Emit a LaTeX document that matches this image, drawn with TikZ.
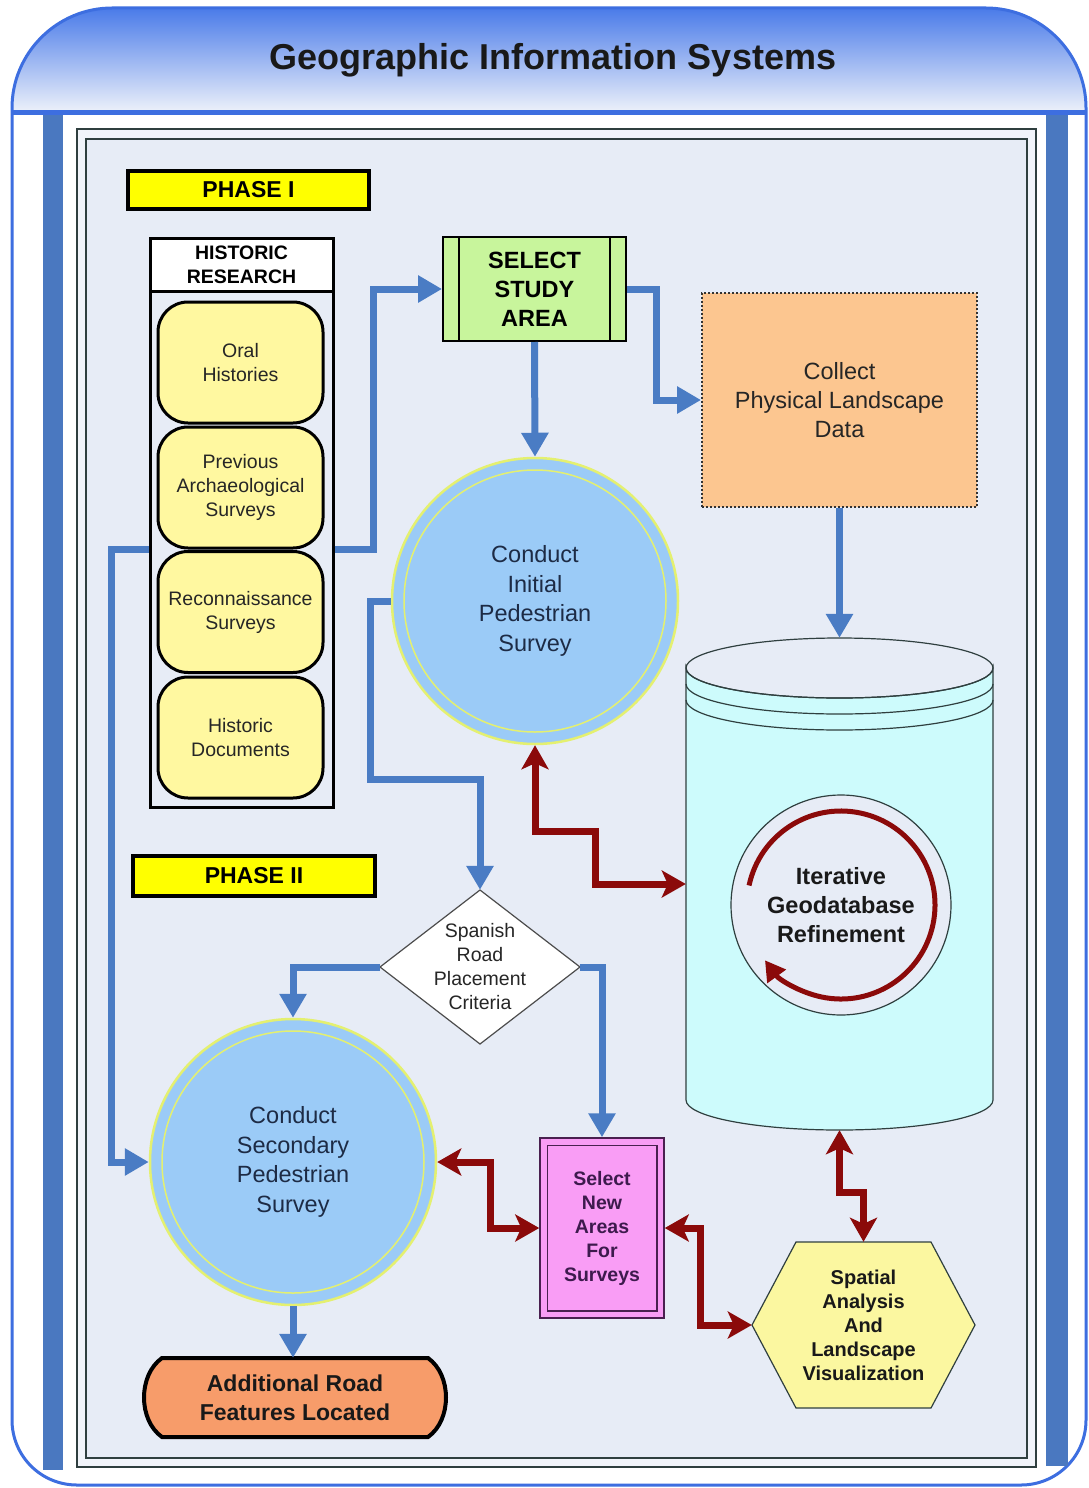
\documentclass[tikz,border=0pt]{standalone}
\usepackage{fontspec}
\setmainfont{Liberation Sans}
\usetikzlibrary{arrows.meta,calc}
\definecolor{hdrtop}{HTML}{4A7BE9}
\definecolor{hdrbot}{HTML}{EDF1FA}
\definecolor{frameblue}{HTML}{3D6EE0}
\definecolor{barblue}{HTML}{4A78C0}
\definecolor{innerbg}{HTML}{E7ECF6}
\definecolor{innerbgb}{HTML}{F1F4FA}
\definecolor{phaseyel}{HTML}{FFFF00}
\definecolor{yboxfill}{HTML}{FFF8A0}
\definecolor{selgreen}{HTML}{C8F59C}
\definecolor{peach}{HTML}{FCC690}
\definecolor{cblue}{HTML}{9BCBF7}
\definecolor{glowyel}{HTML}{E4F070}
\definecolor{navytext}{HTML}{1D2B45}
\definecolor{dbcyan}{HTML}{CDFBFC}
\definecolor{pinkfill}{HTML}{F99DF5}
\definecolor{pinkdraw}{HTML}{4A2050}
\definecolor{purptext}{HTML}{3D1A4D}
\definecolor{hexyel}{HTML}{FBF7A0}
\definecolor{orangefill}{HTML}{F79C6A}
\definecolor{arrowblue}{HTML}{4A7CC4}
\definecolor{darkred}{HTML}{8B0A0A}
\definecolor{darkline}{HTML}{2F3F3F}
\begin{document}
\begin{tikzpicture}[x=1pt,y=-1pt,
  txt/.style={align=center, inner sep=0},
  phasebox/.style={draw=black, line width=4, fill=phaseyel, minimum width=241, minimum height=38, inner sep=0, font=\fontsize{23}{27}\selectfont\bfseries},
  ybox/.style={draw=black, line width=3, fill=yboxfill, rounded corners=30, minimum width=165, minimum height=121, inner sep=0, align=center, text=black!85, font=\fontsize{19.5}{24}\selectfont},
  survcircle/.style={circle, minimum size=286, inner sep=0, fill=cblue, draw=glowyel, line width=2.5, text=navytext, align=center, font=\fontsize{23.5}{29.5}\selectfont},
  barrow/.style={draw=arrowblue, line width=7, -{Triangle[length=24,width=26]}},
  rarrow/.style={draw=darkred, line width=7, {Stealth[length=24,width=27,inset=6]}-{Stealth[length=24,width=27,inset=6]}}
]
\useasboundingbox (0,0) rectangle (1088,1488);
\fill[white] (0,0) rectangle (1088,1488);
% outer frame
\path[fill=white] (12,108) -- (12,1420) .. controls (12,1456) and (41,1485) .. (77,1485) -- (1021,1485) .. controls (1057,1485) and (1086,1456) .. (1086,1420) -- (1086,108) .. controls (1086,53) and (1041,8) .. (986,8) -- (112,8) .. controls (57,8) and (12,53) .. (12,108) -- cycle;
\shade[top color=hdrtop, bottom color=hdrbot] (12,112) -- (12,108) .. controls (12,53) and (57,8) .. (112,8) -- (986,8) .. controls (1041,8) and (1086,53) .. (1086,108) -- (1086,112) -- cycle;
\draw[frameblue, line width=3] (12,108) -- (12,1420) .. controls (12,1456) and (41,1485) .. (77,1485) -- (1021,1485) .. controls (1057,1485) and (1086,1456) .. (1086,1420) -- (1086,108) .. controls (1086,53) and (1041,8) .. (986,8) -- (112,8) .. controls (57,8) and (12,53) .. (12,108) -- cycle;
\draw[frameblue, line width=5] (12,112) -- (1086,112);
\node[txt, font=\fontsize{36}{40}\selectfont\bfseries, text=black!90] (title) at (553,60) {Geographic Information Systems};
% side bars
\fill[barblue] (43,115) rectangle (63,1470);
\fill[barblue] (1046,115) rectangle (1068,1466);
% inner frame
\draw[fill=innerbgb, draw=darkline, line width=1.5] (77,129) rectangle (1036,1467);
\draw[fill=innerbg, draw=darkline, line width=1.5] (86,139) rectangle (1027,1458);

% phase labels
\node[phasebox] (p1) at (248.5,190) {PHASE I};
\node[phasebox, minimum width=242, minimum height=40] (p2) at (254,876) {PHASE II};

% historic research column
\node[draw=black, line width=3, minimum width=183, minimum height=569, inner sep=0] (col) at (241.5,522.5) {};
\node[draw=black, line width=3, fill=white, minimum width=183, minimum height=53, txt, font=\fontsize{19.5}{24}\selectfont\bfseries] (hr) at (241.5,264.5) {HISTORIC\\RESEARCH};
\node[ybox] (oral) at (240.5,362.5) {Oral\\Histories};
\node[ybox] (prev) at (240.5,487.5) {Previous\\Archaeological\\Surveys};
\node[ybox] (recon) at (240.5,612) {Reconnaissance\\Surveys};
\node[ybox] (hdoc) at (240.5,737.5) {Historic\\Documents};

% select study area
\node[draw=black, line width=2, fill=selgreen, minimum width=183, minimum height=104, txt, font=\fontsize{23.5}{29}\selectfont\bfseries] (ssa) at (534.5,289) {SELECT\\STUDY\\AREA};
\draw[black, line width=2] ([xshift=17]ssa.north west) -- ([xshift=17]ssa.south west);
\draw[black, line width=2] ([xshift=-17]ssa.north east) -- ([xshift=-17]ssa.south east);

% collect physical landscape data
\node[draw=black!80, dotted, line width=2, fill=peach, minimum width=275, minimum height=214, txt, font=\fontsize{23.5}{29}\selectfont, text=black!85] (cpl) at (839.5,400) {Collect\\Physical Landscape\\Data};

% initial survey circle
\node[survcircle] (cips) at (535,601) {Conduct\\Initial\\Pedestrian\\Survey};
\draw[glowyel, line width=1.5] (cips.center) circle[radius=131];

% geodatabase cylinder
\path[fill=dbcyan, draw=darkline, line width=1.2] (686,668) -- (686,1100) arc[start angle=180, end angle=0, x radius=153.5, y radius=30] -- (993,668) arc[start angle=0, end angle=180, x radius=153.5, y radius=30] -- cycle;
\draw[darkline, line width=1.2] (839.5,668) ellipse[x radius=153.5, y radius=30];
\draw[darkline, line width=1.2] (686,684) arc[start angle=180, end angle=0, x radius=153.5, y radius=30];
\draw[darkline, line width=1.2] (686,700) arc[start angle=180, end angle=0, x radius=153.5, y radius=30];
\node[minimum width=307, minimum height=492, inner sep=0] (db) at (839.5,884) {};
\node[circle, draw=darkline, line width=1.2, fill=innerbg, minimum size=220, inner sep=0] (igr) at (841,905) {};
\draw[darkred, line width=5, -{Triangle[length=20,width=22]}] (igr.center) ++(-168:94) arc[start angle=-168, end angle=144, radius=94];
\node[txt, font=\fontsize{23.5}{29}\selectfont\bfseries, text=black!90] (igrtext) at (igr.center) {Iterative\\Geodatabase\\Refinement};

% decision diamond
\path[fill=white, draw=black!70, line width=1.2] (480,890) -- (580,967) -- (480,1044) -- (380,967) -- cycle;
\node[minimum width=200, minimum height=154, txt, font=\fontsize{19.5}{24}\selectfont, text=black!85] (srp) at (480,967) {Spanish\\Road\\Placement\\Criteria};

% secondary survey circle
\node[survcircle] (csps) at (293,1162) {Conduct\\Secondary\\Pedestrian\\Survey};
\draw[glowyel, line width=1.5] (csps.center) circle[radius=131];

% select new areas
\node[draw=pinkdraw, line width=1.5, fill=pinkfill, minimum width=124, minimum height=180, txt, text=purptext, font=\fontsize{19.5}{24}\selectfont\bfseries] (sna) at (602,1228) {Select\\New\\Areas\\For\\Surveys};
\draw[pinkdraw, line width=1.5] ([shift={(8,8)}]sna.north west) rectangle ([shift={(-8,-8)}]sna.south east);

% spatial analysis hexagon
\path[fill=hexyel, draw=darkline, line width=1.2] (752,1325) -- (796,1242) -- (931,1242) -- (975,1325) -- (931,1408) -- (796,1408) -- cycle;
\node[minimum width=223, minimum height=166, txt, font=\fontsize{20}{24}\selectfont\bfseries, text=black!90] (sal) at (863.5,1325) {Spatial\\Analysis\\And\\Landscape\\Visualization};

% additional road features
\path[fill=orangefill, draw=black, line width=4] (162,1358) -- (428,1358) .. controls (452,1375) and (452,1420) .. (428,1437) -- (162,1437) .. controls (138,1420) and (138,1375) .. (162,1358) -- cycle;
\node[minimum width=300, minimum height=79, txt, font=\fontsize{23}{29}\selectfont\bfseries, text=black!90] (arf) at (295,1397.5) {Additional Road\\Features Located};

% blue connectors
\draw[barrow] (col.east |- prev.south) -- ++(39,0) |- (ssa.west);
\draw[barrow] (ssa.south) -- (cips.north);
\draw[barrow] (ssa.east) -- ++(29,0) |- (cpl.west);
\draw[barrow] (cpl.south) -- (db.north);
\draw[barrow] (cips.west) -- ++(-20,0) |- ($(srp.north)+(0,-110)$) -- (srp.north);
\draw[barrow] (col.west |- prev.south) -- ++(-37,0) |- (csps.west);
\draw[barrow] (srp.west) -| (csps.north);
\draw[barrow] (srp.east) -| (sna.north);
\draw[barrow] (csps.south) -- (csps.south |- arf.north);

% dark red connectors
\draw[rarrow] (cips.south) -- ++(0,86) -- ++(60,0) |- (db.west);
\draw[rarrow] (csps.east) -- ++(53,0) |- (sna.west);
\draw[rarrow] (sna.east) -- ++(36,0) |- (sal.west);
\draw[rarrow] (db.south) -- ++(0,62) -| (sal.north);
\end{tikzpicture}
\end{document}
